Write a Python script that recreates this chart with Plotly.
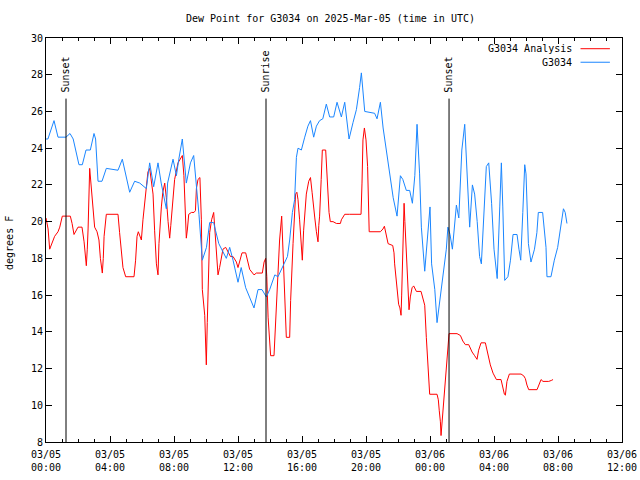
import pandas as pd
import plotly.graph_objects as go

# hours after 2025-03-05 00:00 UTC
obs_hours = [0.0, 0.12, 0.5, 0.75, 1.25, 1.5, 1.7, 2.06, 2.27, 2.5, 2.77, 3.0, 3.1, 3.25, 3.5, 3.77, 4.5, 4.77,
             5.23, 5.54, 5.86, 6.27, 6.48, 6.6, 6.73, 7.0, 7.2, 7.52, 7.6, 7.94, 8.15, 8.3, 8.52, 8.77, 9.03,
             9.23, 9.4, 9.56, 9.77, 10.03, 10.23, 10.48, 10.6, 10.8, 11.27, 11.48, 11.69, 12.0, 12.2, 12.48,
             13.0, 13.25, 13.5, 13.77, 13.98, 14.3, 14.5, 14.81, 15.09, 15.23, 15.4, 15.54, 15.65, 15.75,
             15.96, 16.17, 16.37, 16.53, 16.73, 16.9, 17.1, 17.3, 17.52, 17.73, 17.98, 18.19, 18.46, 18.67,
             18.94, 19.19, 19.4, 19.6, 19.71, 19.92, 20.54, 20.69, 20.9, 21.07, 21.28, 21.48, 21.7, 21.94,
             22.15, 22.3, 22.52, 22.73, 22.9, 23.05, 23.19, 23.35, 23.46, 23.67, 23.88, 24.0, 24.1, 24.3,
             24.44, 24.6, 24.8, 25.02, 25.12, 25.25, 25.4, 25.65, 25.8, 25.99, 26.17, 26.33, 26.48, 26.65,
             26.79, 26.95, 27.1, 27.21, 27.35, 27.52, 27.67, 27.85, 28.0, 28.15, 28.2, 28.36, 28.46, 28.55,
             28.67, 28.87, 29.03, 29.19, 29.44, 29.56, 29.67, 29.8, 29.92, 30.0, 30.1, 30.15, 30.31, 30.53,
             30.68, 30.77, 31.04, 31.25, 31.31, 31.56, 31.77, 31.98, 32.15, 32.34, 32.45, 32.56]
obs_dewpt = [24.5, 24.5, 25.5, 24.6, 24.6, 24.8, 24.5, 23.1, 23.1, 23.9, 23.9, 24.8, 24.5, 22.2, 22.2, 22.9, 22.8, 23.4,
             21.6, 22.2, 22.1, 21.8, 23.2, 22.6, 21.9, 23.2, 22.1, 20.7, 22.1, 23.4, 22.5, 23.4, 24.5, 22.1, 23.2,
             23.6, 22.1, 20.4, 17.9, 18.6, 19.95, 19.95, 19.5, 18.8, 18.0, 18.6, 17.9, 16.7, 17.5, 16.4,
             15.3, 16.3, 16.3, 15.9, 16.3, 17.1, 17.0, 17.6, 18.1, 19.0, 20.5, 21.2, 23.5, 24.0,
             23.9, 24.6, 25.2, 25.5, 24.6, 25.2, 25.5, 25.6, 26.4, 25.7, 25.7, 26.5, 25.7, 26.5,
             24.5, 25.4, 26.1, 27.3, 28.1, 26.0, 25.9, 25.6, 26.5, 25.1, 23.9, 22.5, 21.3, 20.3,
             22.5, 22.3, 21.7, 21.7, 21.0, 22.5, 25.3, 22.6, 19.7, 17.3, 19.4, 20.8, 17.7, 16.3,
             14.5, 15.7, 17.0, 18.5, 19.7, 19.3, 18.5, 20.9, 20.2, 23.9, 25.3, 22.6, 19.7, 22.0,
             21.5, 20.0, 18.1, 17.7, 20.0, 23.0, 23.2, 21.0, 18.5, 17.5, 16.9, 20.8, 23.2, 20.8,
             16.8, 17.0, 17.9, 19.3, 19.3, 18.5, 17.9, 20.5, 23.1, 22.6, 19.5, 18.8, 17.8, 18.5,
             19.4, 20.5, 20.5, 18.6, 17.0, 17.0, 17.9, 18.6, 19.6, 20.7, 20.5, 19.9]

ana_hours = [0.0, 0.13, 0.23, 0.35, 0.54, 0.75, 0.86, 1.02, 1.52, 1.63, 1.75, 2.0, 2.25, 2.38, 2.46, 2.52, 2.58,
             2.63, 2.73, 2.88, 3.04, 3.19, 3.31, 3.4, 3.46, 3.52, 3.58, 3.63, 3.77, 4.5, 4.6, 4.71, 4.81, 4.98,
             5.5, 5.6, 5.69, 5.77, 5.88, 5.96, 6.06, 6.17, 6.27, 6.37, 6.48, 6.58, 6.69, 6.79, 6.9, 7.0, 7.06,
             7.21, 7.3, 7.42, 7.52, 7.63, 7.73, 7.8, 7.9, 8.04, 8.25, 8.52, 8.62, 8.71, 8.77, 8.84, 8.92, 9.09,
             9.25, 9.34, 9.4, 9.5, 9.62, 9.71, 9.77, 9.92, 9.98, 10.02, 10.08, 10.15, 10.23, 10.35, 10.48,
             10.6, 10.69, 10.75, 10.85, 10.96, 11.06, 11.23, 11.38, 11.53, 11.69, 11.9, 12.0, 12.1, 12.25,
             12.48, 12.63, 12.73, 13.0, 13.15, 13.52, 13.63, 13.73, 13.8, 13.88, 13.98, 14.04, 14.25, 14.35,
             14.44, 14.52, 14.6, 14.73, 14.8, 14.88, 14.98, 15.02, 15.23, 15.29, 15.44, 15.52, 15.6, 15.68,
             15.75, 15.85, 15.96, 16.02, 16.1, 16.17, 16.27, 16.42, 16.53, 16.63, 16.73, 16.8, 16.9, 17.0,
             17.05, 17.1, 17.2, 17.27, 17.48, 17.56, 17.69, 17.77, 17.94, 18.15, 18.4, 18.46, 18.67, 18.98,
             19.69, 19.75, 19.81, 19.9, 20.0, 20.1, 20.17, 20.2, 20.9, 21.06, 21.15, 21.25, 21.38, 21.67,
             21.75, 21.79, 21.88, 21.94, 22.04, 22.12, 22.19, 22.23, 22.31, 22.38, 22.43, 22.52, 22.6, 22.69,
             22.77, 22.88, 22.98, 23.15, 23.44, 23.56, 23.67, 23.77, 23.86, 23.92, 23.98, 24.44, 24.52, 24.58,
             24.65, 24.69, 24.77, 24.85, 24.96, 25.02, 25.1, 25.19, 25.69, 25.9, 26.05, 26.21, 26.42, 26.63,
             26.79, 26.94, 27.04, 27.19, 27.46, 27.61, 27.77, 27.94, 28.15, 28.44, 28.54, 28.65, 28.71, 28.81,
             28.96, 29.69, 29.86, 29.96, 30.06, 30.17, 30.69, 30.79, 30.94, 31.06, 31.42, 31.58, 31.69]
ana_dewpt = [20.2, 19.6, 18.5, 18.8, 19.2, 19.45, 19.7, 20.3, 20.3, 19.9, 19.3, 19.7, 19.7, 18.9, 18.0, 17.6, 18.5,
             19.6, 22.9, 21.4, 19.7, 19.45, 19.0, 18.0, 17.45, 17.2, 18.0, 19.2, 20.4, 20.4, 19.4, 18.2, 17.5, 17.0,
             17.0, 17.9, 19.2, 19.45, 19.2, 19.0, 20.1, 21.0, 21.8, 22.7, 22.9, 22.1, 21.5, 19.5, 17.7, 17.1, 18.8,
             20.8, 21.6, 22.1, 21.3, 20.0, 19.1, 19.8, 21.0, 22.3, 23.2, 23.6, 22.5, 19.9, 19.1, 19.6, 20.4, 20.5,
             20.5, 20.6, 21.8, 22.3, 22.4, 20.1, 16.3, 14.9, 13.1, 12.2, 14.5, 16.6, 19.4, 20.1, 20.5,
             19.0, 18.1, 17.1, 17.5, 18.1, 18.5, 18.6, 18.3, 18.1, 18.1, 17.8, 17.5, 17.8, 18.3,
             18.3, 17.8, 17.4, 17.1, 17.2, 17.2, 17.8, 18.0, 17.0, 14.8, 13.35, 12.7, 12.7, 14.3,
             16.1, 17.2, 19.0, 20.3, 18.5, 16.3, 14.5, 13.7, 13.7, 15.7, 18.8, 20.5, 21.5, 21.6,
             21.2, 20.1, 18.6, 17.9, 19.5, 20.5, 21.5, 22.2, 22.4, 21.6, 20.6, 20.2, 19.45, 18.9,
             19.8, 20.3, 22.3, 23.9, 23.9, 22.6, 20.5, 20.0, 20.0, 19.9, 19.9, 20.1, 20.4, 20.4,
             20.4, 22.1, 24.45, 25.1, 24.45, 23.0, 20.1, 19.45, 19.45, 19.6, 19.75, 19.4, 18.8, 18.7,
             18.3, 17.7, 17.0, 16.3, 15.5, 15.3, 14.9, 16.0, 18.8, 21.0, 20.0, 18.5, 16.6, 15.2,
             15.9, 16.4, 16.5, 16.2, 16.2, 15.8, 15.45, 13.7, 12.3, 11.2, 10.6, 10.6, 10.3, 9.7,
             9.1, 8.35, 9.2, 10.2, 11.3, 12.3, 12.9, 13.9, 13.9, 13.8, 13.5, 13.3, 13.3, 12.9,
             12.7, 12.5, 13.0, 13.4, 13.4, 12.8, 12.2, 11.75, 11.4, 11.4, 11.0, 10.6, 10.55, 11.3,
             11.7, 11.7, 11.6, 11.45, 11.1, 10.85, 10.85, 11.1, 11.4, 11.3, 11.3, 11.35, 11.4]

sun_labels = ["Sunset", "Sunrise", "Sunset"]
sun_hours = [1.25, 13.75, 25.19]

tick_hours = [0, 4, 8, 12, 16, 20, 24, 28, 32, 36]
tick_labels = ["03/05<br>00:00", "03/05<br>04:00", "03/05<br>08:00", "03/05<br>12:00", "03/05<br>16:00",
               "03/05<br>20:00", "03/06<br>00:00", "03/06<br>04:00", "03/06<br>08:00", "03/06<br>12:00"]

base = pd.Timestamp("2025-03-05 00:00")
def to_time(h):
    return base + pd.to_timedelta(h, unit="h")

RED = "#ff0000"
BLUE = "#1a86ff"
FONT = "DejaVu Sans Mono"
TXT = dict(family=FONT, size=10, color="black")

fig = go.Figure()
fig.add_trace(go.Scatter(x=to_time(ana_hours), y=ana_dewpt, mode="lines", name="G3034 Analysis",
                         line=dict(color=RED, width=1), showlegend=False))
fig.add_trace(go.Scatter(x=to_time(obs_hours), y=obs_dewpt, mode="lines", name="G3034",
                         line=dict(color=BLUE, width=1), showlegend=False))

for lab, h in zip(sun_labels, sun_hours):
    t = to_time(h)
    fig.add_shape(type="line", xref="x", yref="y", x0=t, x1=t, y0=8, y1=26.7,
                  line=dict(color="black", width=1))
    fig.add_annotation(x=t, y=26.7, xref="x", yref="y", text=lab, textangle=-90, showarrow=False,
                       yanchor="bottom", xanchor="center", yshift=4, font=TXT)

# legend (gnuplot style: text on the left, sample on the right)
for name, col, yp in [("G3034 Analysis", RED, 0.9735), ("G3034", BLUE, 0.940)]:
    fig.add_annotation(x=0.916, y=yp, xref="paper", yref="paper", text=name, showarrow=False,
                       xanchor="right", yanchor="middle", font=TXT)
    fig.add_shape(type="line", xref="paper", yref="paper", x0=0.928, x1=0.979, y0=yp, y1=yp,
                  line=dict(color=col, width=1))

# title and y-axis label
fig.add_annotation(x=0.494, y=1.048, xref="paper", yref="paper", showarrow=False,
                   text="Dew Point for G3034 on 2025-Mar-05 (time in UTC)", xanchor="center", yanchor="middle",
                   font=TXT)
fig.add_annotation(x=-0.0625, y=0.4926, xref="paper", yref="paper", showarrow=False, text="degrees F",
                   textangle=-90, xanchor="center", yanchor="middle", font=TXT)

fig.update_layout(
    width=640, height=480,
    margin=dict(l=46, r=18, t=38, b=38, autoexpand=False),
    paper_bgcolor="white", plot_bgcolor="white",
    font=TXT,
    showlegend=False,
    hovermode=False,
)
fig.update_xaxes(
    type="date", range=[to_time(0), to_time(36)], automargin=False,
    tickvals=to_time(tick_hours), ticktext=tick_labels,
    showgrid=False, zeroline=False, showline=True, linecolor="black", linewidth=1, mirror="ticks",
    ticks="inside", ticklen=6, tickcolor="black", tickwidth=1, ticklabelstandoff=3,
    minor=dict(dtick=3600000, ticks="inside", ticklen=3, tickcolor="black", showgrid=False),
    tickfont=TXT,
)
fig.update_yaxes(
    range=[8, 30], dtick=2, tick0=8, automargin=False,
    showgrid=False, zeroline=False, showline=True, linecolor="black", linewidth=1, mirror="ticks",
    ticks="inside", ticklen=6, tickcolor="black", tickwidth=1,
    tickfont=TXT,
)

fig.write_html("out.html", config={"displayModeBar": False},
               post_script="document.body.style.margin='0px';")
